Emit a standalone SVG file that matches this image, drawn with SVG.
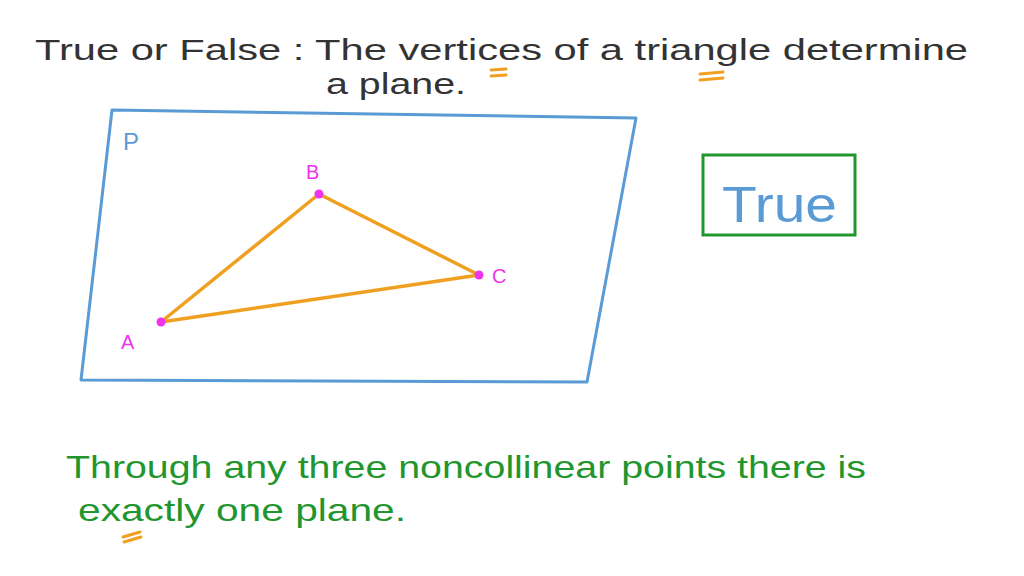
<svg xmlns="http://www.w3.org/2000/svg" width="1024" height="576" viewBox="0 0 1024 576">
<style>
text{font-family:"Liberation Sans","DejaVu Sans",sans-serif;}
.ink{fill:#333333;font-size:30px;}
.grn{fill:#22962e;font-size:32px;}
.mag{fill:#ee33ee;font-size:20px;}
.mark{stroke:#f0a020;stroke-width:3;stroke-linecap:round;fill:none;}
.edge{stroke:#f0a020;stroke-width:3.5;stroke-linecap:round;fill:none;}
</style>
<rect width="1024" height="576" fill="#ffffff"/>
<g id="title">
<text class="ink" x="35" y="60" textLength="933" lengthAdjust="spacingAndGlyphs">True or False : The vertices of a triangle determine</text>
<text class="ink" x="326" y="94" textLength="140" lengthAdjust="spacingAndGlyphs">a plane.</text>
<path class="mark" d="M491 70 L506 69 M491 76 L506 75"/>
<path class="mark" d="M700 74 L723 72 M700 80 L723 78"/>
</g>
<g id="plane">
<path d="M112 110 L636 118 L587 382 L81 380 Z" fill="none" stroke="#5b9bd5" stroke-width="3" stroke-linejoin="round"/>
<text x="123" y="150" fill="#5b9bd5" font-size="24">P</text>
</g>
<g id="connectors">
<path class="edge" d="M161 322 L319 194 L479 275 Z" stroke-linejoin="round"/>
</g>
<g id="A"><circle cx="161" cy="322" r="4.5" fill="#ee33ee"/><text class="mag" x="121" y="349">A</text></g>
<g id="B"><circle cx="319" cy="194" r="4.5" fill="#ee33ee"/><text class="mag" x="306" y="179">B</text></g>
<g id="C"><circle cx="479" cy="275" r="4.5" fill="#ee33ee"/><text class="mag" x="492" y="283">C</text></g>
<g id="answer">
<rect x="703" y="155" width="152" height="80" fill="none" stroke="#22962e" stroke-width="3"/>
<text x="722" y="222" fill="#5b9bd5" font-size="50" textLength="115" lengthAdjust="spacingAndGlyphs">True</text>
</g>
<g id="explanation">
<text class="grn" x="66" y="478" textLength="800" lengthAdjust="spacingAndGlyphs">Through any three noncollinear points there is</text>
<text class="grn" x="78" y="521" textLength="328" lengthAdjust="spacingAndGlyphs">exactly one plane.</text>
<path class="mark" d="M123 537 L140 532 M124 542 L141 537"/>
</g>
</svg>
